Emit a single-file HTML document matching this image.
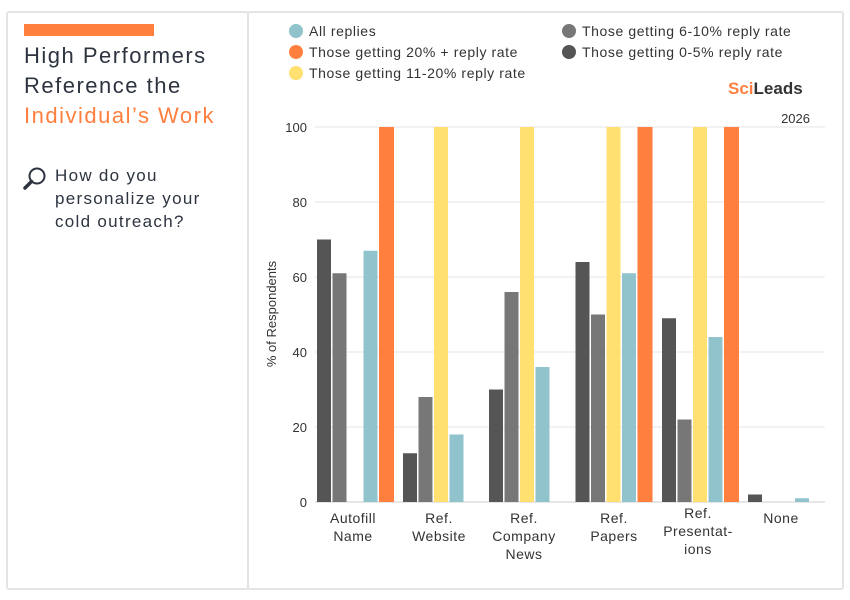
<!DOCTYPE html>
<html><head><meta charset="utf-8"><style>
body{margin:0;background:#fff;font-family:"Liberation Sans",sans-serif;}
.p{position:absolute;border:2px solid #e4e4e4;border-radius:3px;box-sizing:border-box;}
</style></head><body>
<div style="position:relative;width:850px;height:600px;overflow:hidden">
<div class="p" style="left:6px;top:11px;width:243px;height:579px"></div>
<div class="p" style="left:247px;top:11px;width:597px;height:579px"></div>
<div style="position:absolute;left:24px;top:24px;width:130px;height:12px;background:#ff7f3f"></div>
<div style="position:absolute;left:24px;top:41px;font-size:22px;line-height:30px;color:#2d3440;letter-spacing:1.5px">High Performers<br>Reference the<br><span style="color:#ff7f3f">Individual’s Work</span></div>
<svg style="position:absolute;left:22px;top:166px" width="26" height="26"><circle cx="15" cy="10" r="7.5" fill="none" stroke="#2d3440" stroke-width="2"/><line x1="9.5" y1="15.5" x2="3" y2="22" stroke="#2d3440" stroke-width="3.5" stroke-linecap="round"/></svg>
<div style="position:absolute;left:55px;top:164px;font-size:17px;line-height:23px;color:#2d3440;letter-spacing:1.3px">How do you<br>personalize your<br>cold outreach?</div>
<svg style="position:absolute;left:0;top:0" width="850" height="600" font-family="Liberation Sans, sans-serif">
<g font-size="14" fill="#333" letter-spacing="0.6">
<circle cx="296" cy="31" r="7" fill="#90c3cc"/><text x="309" y="36">All replies</text>
<circle cx="296" cy="52" r="7" fill="#ff7f3f"/><text x="309" y="57">Those getting 20% + reply rate</text>
<circle cx="296" cy="73" r="7" fill="#ffe070"/><text x="309" y="78">Those getting 11-20% reply rate</text>
<circle cx="569" cy="31" r="7" fill="#777"/><text x="582" y="36">Those getting 6-10% reply rate</text>
<circle cx="569" cy="52" r="7" fill="#555"/><text x="582" y="57">Those getting 0-5% reply rate</text>
</g>
<text x="728" y="94" font-size="17" font-weight="bold" fill="#ff7f3f">Sci<tspan fill="#333">Leads</tspan></text>
<text x="810" y="123" font-size="13" fill="#333" text-anchor="end">2026</text>
<g stroke="#eee" stroke-width="1.5">
<line x1="315" x2="825" y1="127" y2="127"/><line x1="315" x2="825" y1="202" y2="202"/><line x1="315" x2="825" y1="277" y2="277"/><line x1="315" x2="825" y1="352" y2="352"/><line x1="315" x2="825" y1="427" y2="427"/><line x1="315" x2="825" y1="502" y2="502" stroke="#ddd"/>
</g>
<g font-size="13" fill="#333" text-anchor="end">
<text x="307" y="132">100</text><text x="307" y="207">80</text><text x="307" y="282">60</text><text x="307" y="357">40</text><text x="307" y="432">20</text><text x="307" y="507">0</text>
</g>
<text transform="translate(276,314) rotate(-90)" font-size="13" fill="#333" text-anchor="middle">% of Respondents</text>
<g font-size="14" fill="#333" text-anchor="middle" letter-spacing="0.5">
<text x="353" y="523">Autofill</text><text x="353" y="541">Name</text>
<text x="439" y="523">Ref.</text><text x="439" y="541">Website</text>
<text x="524" y="523">Ref.</text><text x="524" y="541">Company</text><text x="524" y="559">News</text>
<text x="614" y="523">Ref.</text><text x="614" y="541">Papers</text>
<text x="698" y="518">Ref.</text><text x="698" y="536">Presentat-</text><text x="698" y="554">ions</text>
<text x="781" y="523">None</text>
</g>
<g>
<rect x="317" y="239.5" width="14" height="262.5" fill="#555"/><rect x="332.5" y="273.25" width="14" height="228.75" fill="#777"/><rect x="363.5" y="250.75" width="14" height="251.25" fill="#90c3cc"/><rect x="379" y="127" width="15" height="375" fill="#ff7f3f"/>
<rect x="403" y="453.25" width="14" height="48.75" fill="#555"/><rect x="418.5" y="397" width="14" height="105" fill="#777"/><rect x="434" y="127" width="14" height="375" fill="#ffe070"/><rect x="449.5" y="434.5" width="14" height="67.5" fill="#90c3cc"/>
<rect x="489" y="389.5" width="14" height="112.5" fill="#555"/><rect x="504.5" y="292" width="14" height="210" fill="#777"/><rect x="520" y="127" width="14" height="375" fill="#ffe070"/><rect x="535.5" y="367" width="14" height="135" fill="#90c3cc"/>
<rect x="575.5" y="262" width="14" height="240" fill="#555"/><rect x="591" y="314.5" width="14" height="187.5" fill="#777"/><rect x="606.5" y="127" width="14" height="375" fill="#ffe070"/><rect x="622" y="273.25" width="14" height="228.75" fill="#90c3cc"/><rect x="637.5" y="127" width="15" height="375" fill="#ff7f3f"/>
<rect x="662" y="318.25" width="14" height="183.75" fill="#555"/><rect x="677.5" y="419.5" width="14" height="82.5" fill="#777"/><rect x="693" y="127" width="14" height="375" fill="#ffe070"/><rect x="708.5" y="337" width="14" height="165" fill="#90c3cc"/><rect x="724" y="127" width="15" height="375" fill="#ff7f3f"/>
<rect x="748" y="494.5" width="14" height="7.5" fill="#555"/><rect x="795" y="498.25" width="14" height="3.75" fill="#90c3cc"/>
</g>
</svg>
</div>
</body></html>
